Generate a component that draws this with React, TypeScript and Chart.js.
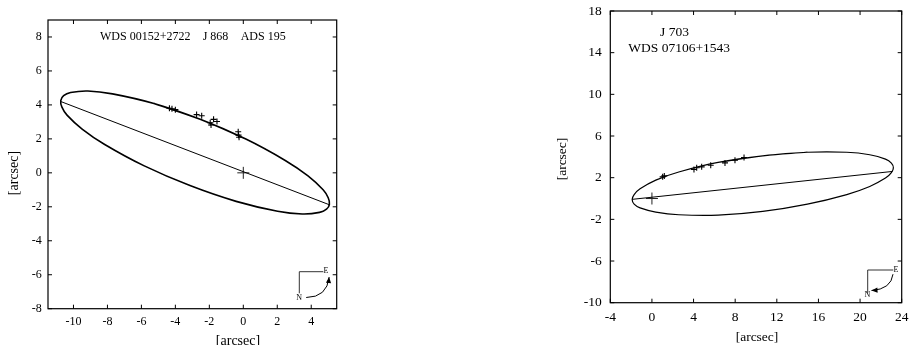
import React, { useEffect, useRef } from "react";
import { Chart, registerables } from "chart.js";

Chart.register(...registerables);

// ---------- Left panel: WDS 00152+2722 / J 868 / ADS 195 ----------
const LEFT_ORBIT_X = [-2.54, -5.26, -7.7, -9.15, -10.17, -10.58, -10.75, -10.68, -10.38, -9.49, -8.16, -5.83, -3.14, -0.42, 2.02, 3.47, 4.49, 4.9, 5.07, 5.0, 4.7, 3.81, 2.47, 0.15];
const LEFT_ORBIT_Y = [3.15, 4.08, 4.65, 4.82, 4.73, 4.54, 4.25, 3.87, 3.4, 2.58, 1.67, 0.41, -0.75, -1.68, -2.26, -2.42, -2.33, -2.14, -1.85, -1.47, -1.0, -0.18, 0.73, 1.99];
const LEFT_APSIDES_X = [-10.75, 5.07];
const LEFT_APSIDES_Y = [4.2, -1.88];
const LEFT_OBS_X = [-4.35, -4.2, -4.0, -2.75, -2.45, -1.95, -1.9, -1.75, -1.55, -0.3, -0.28, -0.25];
const LEFT_OBS_Y = [3.8, 3.77, 3.72, 3.43, 3.36, 2.95, 2.82, 3.15, 3.02, 2.42, 2.22, 2.1];
const LEFT_X_TICKS = [-10, -8, -6, -4, -2, 0, 2, 4];
const LEFT_Y_TICKS = [-8, -6, -4, -2, 0, 2, 4, 6, 8];
const LEFT_TITLES = ["WDS 00152+2722", "J 868", "ADS 195"];

// ---------- Right panel: J 703 / WDS 07106+1543 ----------
const RIGHT_ORBIT_X = [10.65, 6.36, 2.58, 0.37, -1.14, -1.71, -1.9, -1.71, -1.14, 0.37, 2.58, 6.36, 10.65, 14.94, 18.72, 20.93, 22.44, 23.01, 23.2, 23.01, 22.44, 20.93, 18.72, 14.94];
const RIGHT_ORBIT_Y = [4.1, 3.47, 2.55, 1.77, 0.93, 0.38, -0.1, -0.54, -0.9, -1.3, -1.56, -1.6, -1.24, -0.54, 0.38, 1.16, 1.96, 2.48, 2.96, 3.4, 3.78, 4.2, 4.44, 4.44];
const RIGHT_APSIDES_X = [-1.9, 23.12];
const RIGHT_APSIDES_Y = [-0.08, 2.6];
const RIGHT_OBS_X = [1.03, 1.19, 4.04, 4.3, 4.78, 5.65, 7.02, 7.98, 8.85];
const RIGHT_OBS_Y = [2.08, 2.17, 2.79, 2.95, 3.04, 3.2, 3.42, 3.68, 3.94];
const RIGHT_X_TICKS = [-4, 0, 4, 8, 12, 16, 20, 24];
const RIGHT_Y_TICKS = [-10, -6, -2, 2, 6, 10, 14, 18];
const RIGHT_TITLES = ["J 703", "WDS 07106+1543"];

// primary star
const PRIMARY_X = [0];
const PRIMARY_Y = [0];

const AXIS_TITLE = "[arcsec]";
const SERIF = "'Liberation Serif', 'Times New Roman', serif";

type Pt = { x: number; y: number };
const zip = (xs: number[], ys: number[]): Pt[] => xs.map((x, i) => ({ x, y: ys[i] }));
const closeLoop = (pts: Pt[]): Pt[] => [pts[pts.length - 1], ...pts, pts[0], pts[1]];

interface PanelCfg {
  left: number;
  width: number;
  height: number;
  xMin: number; xMax: number; yMin: number; yMax: number;
  xTicks: number[]; yTicks: number[];
  padTop: number; padRight: number;
  yAxisW: number; xAxisH: number;
  tickFont: number; tickPadX: number; tickPadY: number;
  orbit: Pt[]; apsides: Pt[]; obs: Pt[];
  orbitWidth: number;
  titles: { text: string; dx: number; dy: number }[];
  titleFont: number;
  axisFont: number;
  xTitle: { dx: number; dy: number };
  yTitle: { dx: number; dy: number };
  compass: {
    corner: [number, number]; vEnd: [number, number]; hEnd: [number, number];
    e: [number, number]; n: [number, number];
    a0: [number, number]; ac: [number, number]; a1: [number, number];
  };
}

const LEFT_CFG: PanelCfg = {
  left: 0, width: 345, height: 345,
  xMin: -11.5, xMax: 5.5, yMin: -8, yMax: 9,
  xTicks: LEFT_X_TICKS, yTicks: LEFT_Y_TICKS,
  padTop: 20, padRight: 8.3, yAxisW: 48, xAxisH: 36.3,
  tickFont: 12, tickPadX: 6, tickPadY: 6.3,
  orbit: closeLoop(zip(LEFT_ORBIT_X, LEFT_ORBIT_Y)),
  apsides: zip(LEFT_APSIDES_X, LEFT_APSIDES_Y),
  obs: zip(LEFT_OBS_X, LEFT_OBS_Y),
  orbitWidth: 1.6,
  titles: [
    { text: LEFT_TITLES[0], dx: 52, dy: 16.5 },
    { text: LEFT_TITLES[1], dx: 154.7, dy: 16.5 },
    { text: LEFT_TITLES[2], dx: 192.7, dy: 16.5 },
  ],
  titleFont: 12,
  axisFont: 14,
  xTitle: { dx: 190, dy: 32.5 },
  yTitle: { dx: -33.5, dy: 153 },
  compass: {
    corner: [-37.4, -37], vEnd: [-37.4, -15.4], hEnd: [-13.4, -37],
    e: [-13.2, -37.3], n: [-37.6, -11.2],
    a0: [-30.5, -11.2], ac: [-9.5, -11.5], a1: [-7.6, -31.6],
  },
};

const RIGHT_CFG: PanelCfg = {
  left: 540, width: 369, height: 345,
  xMin: -4, xMax: 24, yMin: -10, yMax: 18,
  xTicks: RIGHT_X_TICKS, yTicks: RIGHT_Y_TICKS,
  padTop: 11, padRight: 7.3, yAxisW: 70.3, xAxisH: 42.3,
  tickFont: 13.5, tickPadX: 6.7, tickPadY: 8.6,
  orbit: closeLoop(zip(RIGHT_ORBIT_X, RIGHT_ORBIT_Y)),
  apsides: zip(RIGHT_APSIDES_X, RIGHT_APSIDES_Y),
  obs: zip(RIGHT_OBS_X, RIGHT_OBS_Y),
  orbitWidth: 1.2,
  titles: [
    { text: RIGHT_TITLES[0], dx: 49.7, dy: 21.5 },
    { text: RIGHT_TITLES[1], dx: 18, dy: 37 },
  ],
  titleFont: 13.5,
  axisFont: 13.5,
  xTitle: { dx: 146.7, dy: 34.3 },
  yTitle: { dx: -47.8, dy: 148 },
  compass: {
    corner: [-34, -32.7], vEnd: [-34, -9.4], hEnd: [-8.4, -32.7],
    e: [-8.2, -32.7], n: [-34.2, -7.7],
    a0: [-8.7, -28.5], ac: [-10.5, -13.5], a1: [-30.2, -12.2],
  },
};

function decorPlugin(cfg: PanelCfg) {
  return {
    id: "decor",
    afterDraw(chart: any) {
      const { ctx, chartArea: a, scales } = chart;
      const sx = scales.x, sy = scales.y;
      ctx.save();
      ctx.strokeStyle = "#000";
      ctx.fillStyle = "#000";
      // frame
      ctx.lineWidth = 1.2;
      ctx.strokeRect(a.left, a.top, a.right - a.left, a.bottom - a.top);
      // inward ticks on all four sides
      const L = 4;
      ctx.lineWidth = 1;
      ctx.beginPath();
      cfg.xTicks.forEach((v) => {
        const p = sx.getPixelForValue(v);
        ctx.moveTo(p, a.bottom); ctx.lineTo(p, a.bottom - L);
        ctx.moveTo(p, a.top); ctx.lineTo(p, a.top + L);
      });
      cfg.yTicks.forEach((v) => {
        const p = sy.getPixelForValue(v);
        ctx.moveTo(a.left, p); ctx.lineTo(a.left + L, p);
        ctx.moveTo(a.right, p); ctx.lineTo(a.right - L, p);
      });
      ctx.stroke();
      // titles inside plot
      ctx.font = `${cfg.titleFont}px ${SERIF}`;
      ctx.textBaseline = "middle";
      ctx.textAlign = "left";
      cfg.titles.forEach((t) => ctx.fillText(t.text, a.left + t.dx, a.top + t.dy));
      // axis titles
      ctx.font = `${cfg.axisFont}px ${SERIF}`;
      ctx.textAlign = "center";
      ctx.fillText(AXIS_TITLE, a.left + cfg.xTitle.dx, a.bottom + cfg.xTitle.dy);
      ctx.save();
      ctx.translate(a.left + cfg.yTitle.dx, a.top + cfg.yTitle.dy);
      ctx.rotate(-Math.PI / 2);
      ctx.fillText(AXIS_TITLE, 0, 0);
      ctx.restore();
      // compass N / E
      const c = cfg.compass;
      const P = (q: [number, number]): [number, number] => [a.right + q[0], a.bottom + q[1]];
      ctx.lineWidth = 1;
      ctx.strokeStyle = "#333";
      ctx.beginPath();
      const cc = P(c.corner), ve = P(c.vEnd), he = P(c.hEnd);
      ctx.moveTo(ve[0], ve[1]); ctx.lineTo(cc[0], cc[1]); ctx.lineTo(he[0], he[1]);
      ctx.stroke();
      ctx.font = `8px ${SERIF}`;
      ctx.textAlign = "left";
      const e = P(c.e);
      ctx.fillText("E", e[0], e[1]);
      ctx.textAlign = "center";
      const n = P(c.n);
      ctx.fillText("N", n[0], n[1]);
      const a0 = P(c.a0), ac = P(c.ac), a1 = P(c.a1);
      ctx.strokeStyle = "#000";
      ctx.beginPath();
      ctx.moveTo(a0[0], a0[1]);
      ctx.quadraticCurveTo(ac[0], ac[1], a1[0], a1[1]);
      ctx.stroke();
      const ang = Math.atan2(a1[1] - ac[1], a1[0] - ac[0]);
      const hl = 6, hw = 2.6;
      ctx.beginPath();
      ctx.moveTo(a1[0], a1[1]);
      ctx.lineTo(a1[0] - hl * Math.cos(ang) + hw * Math.sin(ang), a1[1] - hl * Math.sin(ang) - hw * Math.cos(ang));
      ctx.lineTo(a1[0] - hl * Math.cos(ang) - hw * Math.sin(ang), a1[1] - hl * Math.sin(ang) + hw * Math.cos(ang));
      ctx.closePath();
      ctx.fill();
      ctx.restore();
    },
  };
}

function Panel({ cfg }: { cfg: PanelCfg }) {
  const ref = useRef<HTMLCanvasElement | null>(null);
  useEffect(() => {
    if (!ref.current) return;
    const tickFont = { family: SERIF, size: cfg.tickFont };
    const chart = new Chart(ref.current, {
      type: "scatter",
      data: {
        datasets: [
          {
            data: cfg.orbit, showLine: true, tension: 0.4, borderColor: "#000",
            borderWidth: cfg.orbitWidth, pointRadius: 0, fill: false,
          },
          {
            data: cfg.apsides, showLine: true, tension: 0, borderColor: "#000",
            borderWidth: 1, pointRadius: 0, fill: false,
          },
          {
            data: cfg.obs, showLine: false, pointStyle: "cross", pointRadius: 3,
            pointBorderWidth: 1.1, pointBorderColor: "#000", borderColor: "#000",
          },
          {
            data: zip(PRIMARY_X, PRIMARY_Y), showLine: false, pointStyle: "cross", pointRadius: 6,
            pointBorderWidth: 1, pointBorderColor: "#222", borderColor: "#222",
          },
        ],
      },
      options: {
        animation: false,
        responsive: false,
        devicePixelRatio: 1,
        events: [],
        layout: { autoPadding: false, padding: { left: 0, top: cfg.padTop, right: cfg.padRight, bottom: 0 } },
        plugins: { legend: { display: false }, tooltip: { enabled: false }, title: { display: false } },
        scales: {
          x: {
            type: "linear", min: cfg.xMin, max: cfg.xMax,
            grid: { display: false, drawTicks: false }, border: { display: false },
            afterBuildTicks: (s: any) => { s.ticks = cfg.xTicks.map((v) => ({ value: v })); },
            afterFit: (s: any) => { s.height = cfg.xAxisH; s.paddingLeft = 0; s.paddingRight = 0; },
            ticks: { font: tickFont, color: "#000", padding: cfg.tickPadX, maxRotation: 0, autoSkip: false, callback: (v: any) => String(v) },
          },
          y: {
            type: "linear", min: cfg.yMin, max: cfg.yMax,
            grid: { display: false, drawTicks: false }, border: { display: false },
            afterBuildTicks: (s: any) => { s.ticks = cfg.yTicks.map((v) => ({ value: v })); },
            afterFit: (s: any) => { s.width = cfg.yAxisW; s.paddingTop = 0; s.paddingBottom = 0; },
            ticks: { font: tickFont, color: "#000", padding: cfg.tickPadY, autoSkip: false, callback: (v: any) => String(v) },
          },
        },
      } as any,
      plugins: [decorPlugin(cfg)],
    });
    return () => chart.destroy();
  }, [cfg]);
  return (
    <canvas
      ref={ref}
      width={cfg.width}
      height={cfg.height}
      style={{ position: "absolute", left: cfg.left, top: 0, width: cfg.width, height: cfg.height }}
    />
  );
}

export default function App() {
  return (
    <div style={{ position: "fixed", left: 0, top: 0, width: 909, height: 345, background: "#fff", overflow: "hidden" }}>
      <Panel cfg={LEFT_CFG} />
      <Panel cfg={RIGHT_CFG} />
    </div>
  );
}
